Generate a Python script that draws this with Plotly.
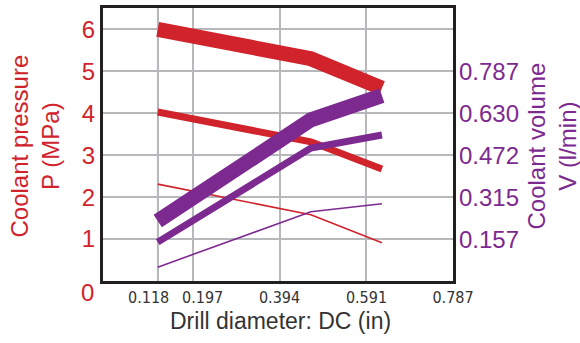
import plotly.graph_objects as go

# ---- data ----
diameter_in = [0.118, 0.465, 0.626]

pressure_high = [6.00, 5.30, 4.60]    # MPa, thick red
pressure_mid = [4.03, 3.32, 2.67]     # MPa, medium red
pressure_low = [2.31, 1.58, 0.91]     # MPa, thin red

volume_high = [0.225, 0.605, 0.696]   # l/min, thick purple
volume_mid = [0.146, 0.499, 0.548]    # l/min, medium purple
volume_low = [0.052, 0.260, 0.290]    # l/min, thin purple

x_tickvals = [0.118, 0.197, 0.394, 0.591, 0.787]
x_ticklabels = ["0.118", "0.197", "0.394", "0.591", "0.787"]
p_tickvals = [1, 2, 3, 4, 5, 6]
v_tickvals = [0.157, 0.315, 0.472, 0.630, 0.787]

RED = "#d0232b"
PURPLE = "#7d2a90"
GRID = "#b7b8bc"
DARK = "#231f20"
TXT = "#333333"
FONT = "Liberation Sans, Arial, sans-serif"
NARROW = "Liberation Sans Narrow, DejaVu Sans Condensed, sans-serif"

P_MAX = 6.51
V_PER_P = 0.15745

fig = go.Figure()
for vals, w in [(pressure_high, 15), (pressure_mid, 7), (pressure_low, 1.6)]:
    fig.add_trace(go.Scatter(x=diameter_in, y=vals, mode="lines",
                             line=dict(color=RED, width=w), yaxis="y",
                             showlegend=False, hoverinfo="skip"))
for vals, w in [(volume_high, 15), (volume_mid, 7), (volume_low, 1.6)]:
    fig.add_trace(go.Scatter(x=diameter_in, y=vals, mode="lines",
                             line=dict(color=PURPLE, width=w), yaxis="y2",
                             showlegend=False, hoverinfo="skip"))

# lighter gridline at the first diameter
fig.add_shape(type="line", xref="x", yref="paper", x0=x_tickvals[0], x1=x_tickvals[0],
              y0=0, y1=1, line=dict(color="#e4e4e6", width=2), layer="between")

# the two crowded x tick labels, nudged apart
ticktext = [""] * 2 + x_ticklabels[2:]
for val, lab, anchor, dx in [(x_tickvals[0], x_ticklabels[0], "right", 12),
                             (x_tickvals[1], x_ticklabels[1], "left", -12)]:
    fig.add_annotation(text=lab, xref="x", yref="paper", x=val, y=0, xanchor=anchor,
                       yanchor="middle", xshift=dx, yshift=-16, showarrow=False,
                       borderpad=0, font=dict(family=NARROW, size=16, color=TXT))

fig.add_annotation(text="0", xref="paper", yref="y", x=0, y=0, xanchor="right",
                   yanchor="middle", xshift=-7, yshift=-11, showarrow=False,
                   font=dict(family=FONT, size=24, color=RED))

# axis titles
fig.add_annotation(text="Coolant pressure<br>P (MPa)", textangle=-90, xref="paper",
                   yref="paper", x=0, y=0.5, xanchor="center", yanchor="middle",
                   xshift=-69, yshift=-2, showarrow=False,
                   font=dict(family=FONT, size=24, color=RED))
fig.add_annotation(text="Coolant volume<br>V (l/min)", textangle=-90, xref="paper",
                   yref="paper", x=1, y=0.5, xanchor="center", yanchor="middle",
                   xshift=98, yshift=-2, showarrow=False,
                   font=dict(family=FONT, size=24, color=PURPLE))
fig.add_annotation(text="Drill diameter: DC (in)", xref="paper", yref="paper",
                   x=0.5, y=0, xanchor="center", yanchor="middle",
                   xshift=2, yshift=-40, showarrow=False, borderpad=0,
                   font=dict(family=FONT, size=23, color=TXT))

fig.update_layout(
    width=580, height=343,
    margin=dict(l=103, r=127, t=8, b=62),
    paper_bgcolor="white", plot_bgcolor="white",
    font=dict(family=FONT, color=DARK),
    xaxis=dict(range=[-0.006, 0.787], tickvals=x_tickvals, ticktext=ticktext,
               tickangle=0, automargin=False, ticklen=0,
               showgrid=True, gridcolor=GRID, gridwidth=2, zeroline=False,
               showline=True, linecolor=DARK, linewidth=3, mirror=True,
               ticks="", tickfont=dict(family=NARROW, size=16, color=TXT)),
    yaxis=dict(range=[0, P_MAX], tickvals=p_tickvals, automargin=False,
               ticklen=0, ticklabelstandoff=0,
               showgrid=True, gridcolor=GRID, gridwidth=2, zeroline=False,
               showline=True, linecolor=DARK, linewidth=3, mirror=True,
               ticks="", tickfont=dict(size=24, color=RED)),
    yaxis2=dict(range=[0, P_MAX * V_PER_P], tickvals=v_tickvals, automargin=False,
                ticklen=0, ticklabelstandoff=5,
                tickformat=".3f", overlaying="y", side="right",
                showgrid=False, zeroline=False, showline=False, ticks="",
                tickfont=dict(size=24, color=PURPLE)),
)

fig.write_html("out.html", config={"displayModeBar": False},
               post_script="document.body.style.margin='0';")
